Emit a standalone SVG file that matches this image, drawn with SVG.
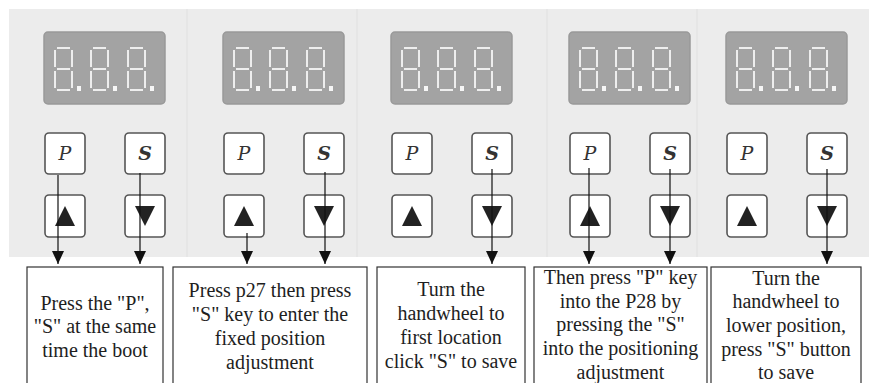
<svg xmlns="http://www.w3.org/2000/svg" xmlns:xlink="http://www.w3.org/1999/xlink" width="869" height="383" viewBox="0 0 869 383">
  <style>
    .bg { fill: #ececec; }
    .sep { stroke: #e5e5e5; stroke-width: 1.5; }
    .disp { fill: #a3a3a3; stroke: #999999; stroke-width: 1.5; }
    .seg { stroke: #f6f6f6; stroke-width: 1.8; stroke-linecap: butt; fill: none; }
    .dot { fill: #f6f6f6; }
    .btn { fill: #ffffff; stroke: #555555; stroke-width: 1.6; }
    .tri { fill: #222222; }
    .key { font-family: "DejaVu Serif", "Liberation Serif", serif; font-style: italic; font-size: 19px; fill: #333333; text-anchor: middle; }
    .keyS { font-weight: bold; }
    .box { fill: #ffffff; stroke: #333333; stroke-width: 1.2; }
    .lbl { font-family: "Liberation Serif", "Times New Roman", serif; font-size: 20px; fill: #1e1e1e; text-anchor: middle; }
    .con { stroke: #111111; stroke-width: 1.2; fill: none; marker-end: url(#arr); }
  </style>
  <defs>
    <marker id="arr" markerUnits="userSpaceOnUse" markerWidth="13" markerHeight="12" refX="13" refY="6" orient="auto" viewBox="0 0 13 12">
      <path d="M0,0 L13,6 L0,12 z" fill="#111111"/>
    </marker>
    <g id="d8">
      <line class="seg" x1="3" y1="1" x2="16" y2="1"/>
      <line class="seg" x1="18" y1="3" x2="18" y2="20"/>
      <line class="seg" x1="18" y1="24" x2="18" y2="41"/>
      <line class="seg" x1="3" y1="43" x2="16" y2="43"/>
      <line class="seg" x1="1" y1="24" x2="1" y2="41"/>
      <line class="seg" x1="1" y1="3" x2="1" y2="20"/>
      <line class="seg" x1="3" y1="22" x2="16" y2="22"/>
      <rect class="dot" x="23" y="39" width="4" height="5"/>
    </g>
    <g id="panelTpl">
      <rect class="disp" x="0" y="32" width="121" height="72" rx="4"/>
      <use xlink:href="#d8" x="10" y="47"/>
      <use xlink:href="#d8" x="46" y="47"/>
      <use xlink:href="#d8" x="83" y="47"/>
      <rect class="btn" x="1" y="133" width="40" height="41" rx="4"/>
      <rect class="btn" x="81" y="133" width="40" height="41" rx="4"/>
      <rect class="btn" x="1" y="195" width="40" height="42" rx="4"/>
      <rect class="btn" x="81" y="195" width="40" height="42" rx="4"/>
      <polygon class="tri" points="11,226 31,226 21,206"/>
      <polygon class="tri" points="91,206 111,206 101,226"/>
    </g>
  </defs>

  <rect class="bg" x="9" y="9" width="860" height="248"/>
  <line class="sep" x1="187" y1="9" x2="187" y2="257"/>
  <line class="sep" x1="357" y1="9" x2="357" y2="257"/>
  <line class="sep" x1="547" y1="9" x2="547" y2="257"/>
  <line class="sep" x1="697" y1="9" x2="697" y2="257"/>

  <g id="panel1">
    <use xlink:href="#panelTpl" x="44" y="0"/>
    <text class="key" x="65" y="160">P</text>
    <text class="key keyS" x="145" y="160">S</text>
  </g>
  <g id="panel2">
    <use xlink:href="#panelTpl" x="223" y="0"/>
    <text class="key" x="244" y="160">P</text>
    <text class="key keyS" x="324" y="160">S</text>
  </g>
  <g id="panel3">
    <use xlink:href="#panelTpl" x="391" y="0"/>
    <text class="key" x="412" y="160">P</text>
    <text class="key keyS" x="492" y="160">S</text>
  </g>
  <g id="panel4">
    <use xlink:href="#panelTpl" x="569" y="0"/>
    <text class="key" x="590" y="160">P</text>
    <text class="key keyS" x="670" y="160">S</text>
  </g>
  <g id="panel5">
    <use xlink:href="#panelTpl" x="726" y="0"/>
    <text class="key" x="747" y="160">P</text>
    <text class="key keyS" x="827" y="160">S</text>
  </g>

  <g id="step1">
    <rect class="box" x="27" y="267" width="136" height="130"/>
    <text class="lbl" x="95" y="309.5">Press the "P",</text>
    <text class="lbl" x="95" y="333">"S" at the same</text>
    <text class="lbl" x="95" y="357">time the boot</text>
  </g>
  <g id="step2">
    <rect class="box" x="173" y="267" width="194" height="130"/>
    <text class="lbl" x="270" y="297">Press p27 then press</text>
    <text class="lbl" x="270" y="321">"S" key to enter the</text>
    <text class="lbl" x="270" y="345">fixed position</text>
    <text class="lbl" x="270" y="368.5">adjustment</text>
  </g>
  <g id="step3">
    <rect class="box" x="377" y="267" width="148" height="130"/>
    <text class="lbl" x="451" y="296">Turn the</text>
    <text class="lbl" x="451" y="320">handwheel to</text>
    <text class="lbl" x="451" y="344">first location</text>
    <text class="lbl" x="451" y="368">click "S" to save</text>
  </g>
  <g id="step4">
    <rect class="box" x="534" y="267" width="173" height="130"/>
    <text class="lbl" x="620.5" y="284">Then press "P" key</text>
    <text class="lbl" x="620.5" y="307.5">into the P28 by</text>
    <text class="lbl" x="620.5" y="331">pressing the "S"</text>
    <text class="lbl" x="620.5" y="355">into the positioning</text>
    <text class="lbl" x="620.5" y="378.5">adjustment</text>
  </g>
  <g id="step5">
    <rect class="box" x="711" y="267" width="150" height="130"/>
    <text class="lbl" x="786" y="284.5">Turn the</text>
    <text class="lbl" x="786" y="308">handwheel to</text>
    <text class="lbl" x="786" y="332">lower position,</text>
    <text class="lbl" x="786" y="356">press "S" button</text>
    <text class="lbl" x="786" y="379">to save</text>
  </g>

  <g id="connectors">
    <line class="con" x1="58" y1="175" x2="58" y2="264"/>
    <line class="con" x1="140" y1="173" x2="140" y2="264"/>
    <line class="con" x1="247" y1="233" x2="247" y2="264"/>
    <line class="con" x1="325" y1="172" x2="325" y2="264"/>
    <line class="con" x1="492" y1="169" x2="492" y2="264"/>
    <line class="con" x1="589" y1="168" x2="589" y2="264"/>
    <line class="con" x1="670" y1="169" x2="670" y2="264"/>
    <line class="con" x1="827" y1="169" x2="827" y2="264"/>
  </g>
</svg>
